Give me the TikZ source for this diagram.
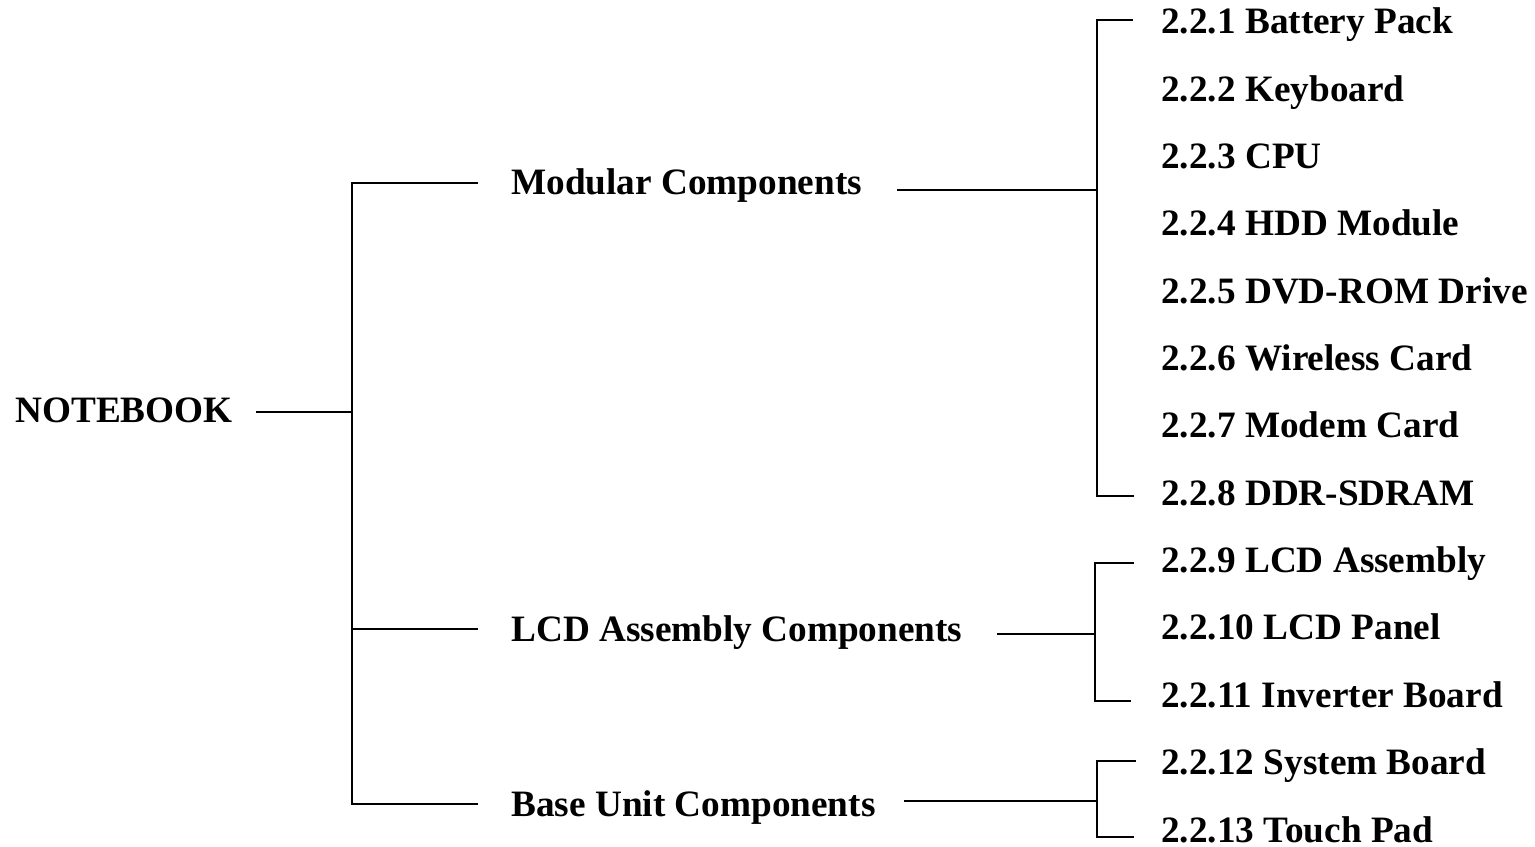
\documentclass[tikz,border=0pt]{standalone}
\usepackage{fontspec}
\setmainfont{Liberation Serif}
\usepackage{xcolor}

\tikzset{
  lbl/.style={anchor=base west,inner sep=0pt,font=\fontsize{21.2}{25}\selectfont\bfseries},
  brk/.style={line width=1.1pt,line cap=rect}
}

\begin{document}
\begin{tikzpicture}[x=0.02cm,y=-0.02cm]
        \useasboundingbox (0,0) rectangle (1535,847);
        % root
        \node[lbl] at (15,423) (nb) {NOTEBOOK};
        % groups
        \node[lbl] at (511,195) (mod) {Modular Components};
        \node[lbl] at (511,642) (lcd) {LCD Assembly Components};
        \node[lbl] at (511,816.5) (base) {Base Unit Components};
        % parts
        \node[lbl] at (1161,34) (p1) {2.2.1 Battery Pack};
        \node[lbl] at (1161,101.3) (p2) {2.2.2 Keyboard};
        \node[lbl] at (1161,168.7) (p3) {2.2.3 CPU};
        \node[lbl] at (1161,236) (p4) {2.2.4 HDD Module};
        \node[lbl] at (1161,303.3) (p5) {2.2.5 DVD-ROM Drive};
        \node[lbl] at (1161,370.7) (p6) {2.2.6 Wireless Card};
        \node[lbl] at (1161,438) (p7) {2.2.7 Modem Card};
        \node[lbl] at (1161,505.3) (p8) {2.2.8 DDR-SDRAM};
        \node[lbl] at (1161,572.7) (p9) {2.2.9 LCD Assembly};
        \node[lbl] at (1161,640) (p10) {2.2.10 LCD Panel};
        \node[lbl] at (1161,707.3) (p11) {2.2.11 Inverter Board};
        \node[lbl] at (1161,774.7) (p12) {2.2.12 System Board};
        \node[lbl] at (1161,842) (p13) {2.2.13 Touch Pad};
        % joints
        \coordinate (nbE) at (257,412);
        \coordinate (j0) at (352,412);
        \coordinate (j0t) at (352,183);
        \coordinate (j0b) at (352,804);
        \coordinate (modW) at (477,183);
        \coordinate (lcdW) at (477,629);
        \coordinate (baseW) at (477,804);
        \coordinate (modE) at (898,190);
        \coordinate (j1) at (1097,190);
        \coordinate (j1t) at (1097,20);
        \coordinate (j1b) at (1097,496);
        \coordinate (p1W) at (1132,20);
        \coordinate (p8W) at (1133,496);
        \coordinate (lcdE) at (998,634);
        \coordinate (j2) at (1095,634);
        \coordinate (j2t) at (1095,563);
        \coordinate (j2b) at (1095,701);
        \coordinate (p9W) at (1133,563);
        \coordinate (p11W) at (1130,701);
        \coordinate (baseE) at (905,801);
        \coordinate (j3) at (1097,801);
        \coordinate (j3t) at (1097,761);
        \coordinate (j3b) at (1097,837);
        \coordinate (p12W) at (1135,761);
        \coordinate (p13W) at (1133,837);
        % left bracket
        \draw[brk] (nbE) -- (j0);
        \draw[brk] (modW) -- (j0t) -- (j0b) -- (baseW);
        \draw[brk] (j0 |- lcdW) -- (lcdW);
        % right brackets
        \draw[brk] (modE) -- (j1);
        \draw[brk] (p1W) -- (j1t) -- (j1b) -- (p8W);
        \draw[brk] (lcdE) -- (j2);
        \draw[brk] (p9W) -- (j2t) -- (j2b) -- (p11W);
        \draw[brk] (baseE) -- (j3);
        \draw[brk] (p12W) -- (j3t) -- (j3b) -- (p13W);
    \end{tikzpicture}
\end{document}
